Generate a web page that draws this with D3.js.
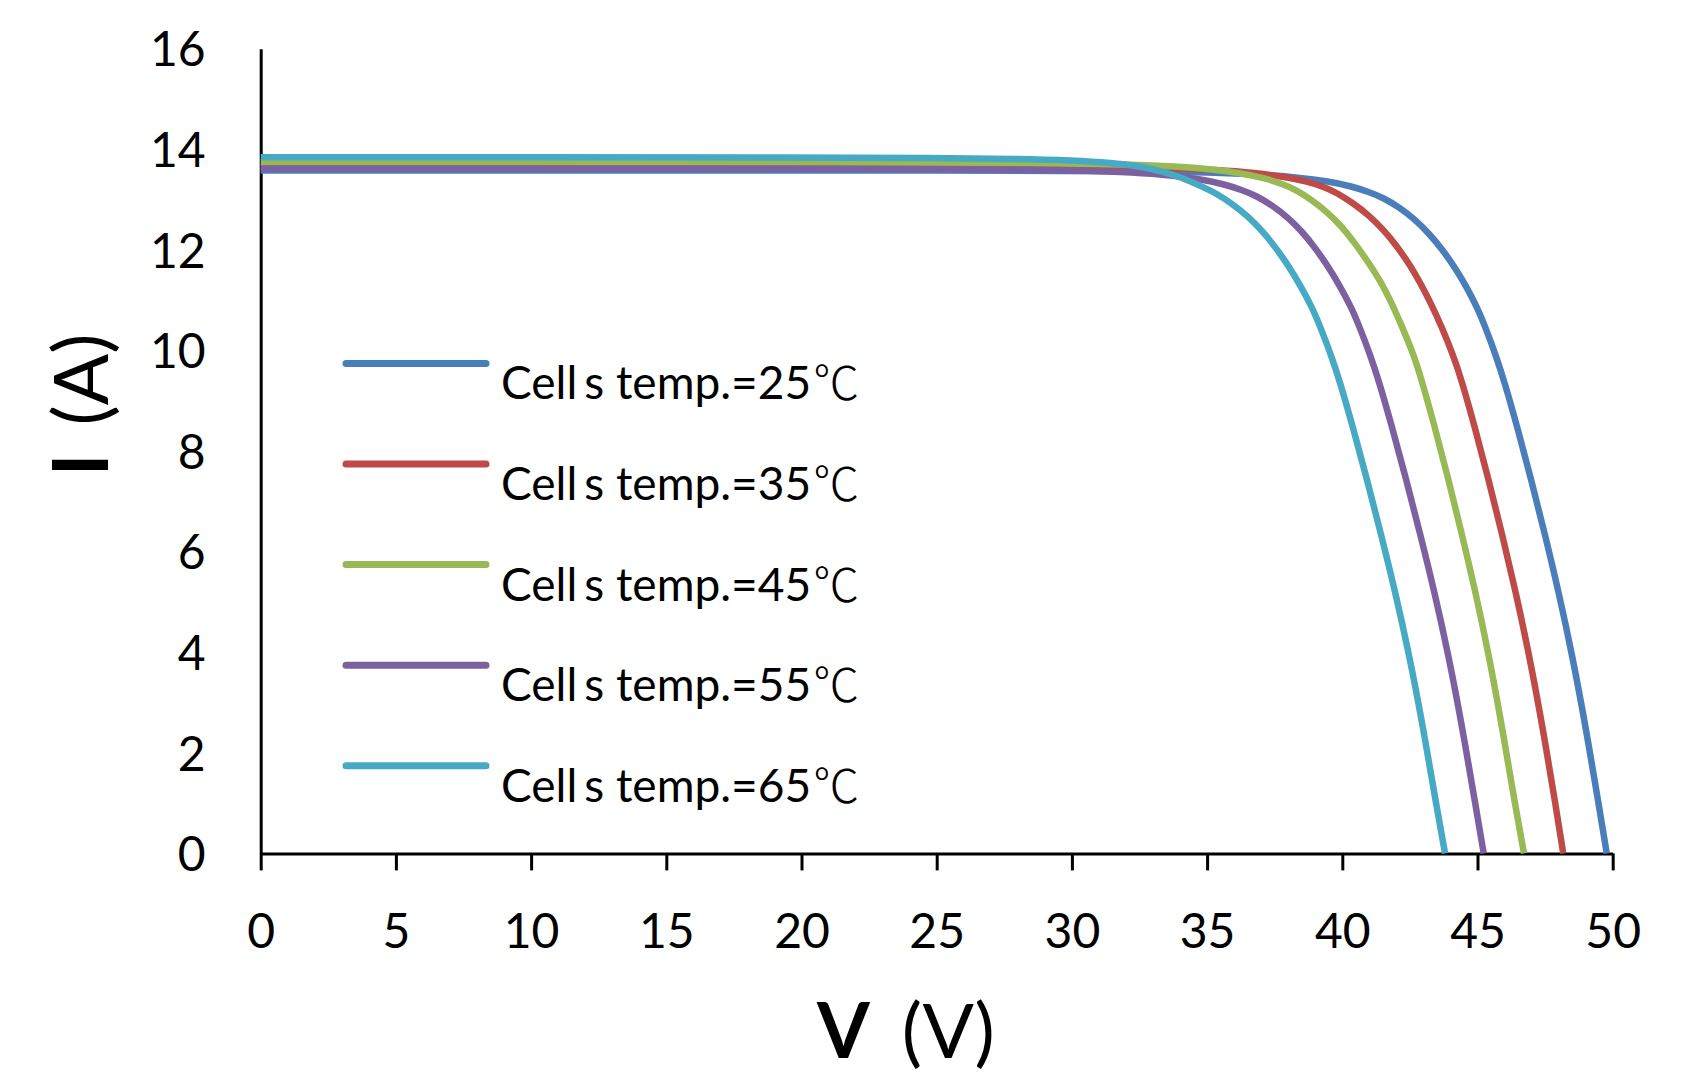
<!DOCTYPE html>
<html>
<head>
<meta charset="utf-8">
<script src="https://cdn.jsdelivr.net/npm/d3@7"></script>
<style>
  html, body { margin: 0; padding: 0; background: #fff; }
  svg { display: block; }
</style>
</head>
<body>
<div id="chart"></div>
<script>
// ---------- data ----------
const seriesNames = ["Cells temp.=25", "Cells temp.=35", "Cells temp.=45", "Cells temp.=55", "Cells temp.=65"];
const seriesColors = ["#4A7EBB", "#BE4B48", "#98B954", "#7D60A0", "#46AAC5"];
const xTicks = [0, 5, 10, 15, 20, 25, 30, 35, 40, 45, 50];
const yTicks = [0, 2, 4, 6, 8, 10, 12, 14, 16];

const curve25 = [[0,13.58],[5,13.58],[10,13.58],[15,13.58],[20,13.58],[25,13.58],[30,13.57],[33,13.56],[35,13.54],[37,13.50],[38.4,13.44],[39.5,13.36],[40.3,13.27],[41.0,13.15],[41.5,13.04],[42.1,12.85],[42.7,12.60],[43.2,12.33],[43.7,12.01],[44.2,11.62],[44.6,11.26],[45.0,10.84],[45.3,10.45],[45.7,9.87],[46.0,9.37],[46.5,8.42],[47.0,7.40],[47.5,6.33],[48.0,5.20],[48.5,3.95],[49.0,2.52],[49.5,0.92],[49.78,0]];
const curve35 = [[0,13.67],[10,13.67],[20,13.67],[28.4,13.66],[31.4,13.65],[33.4,13.63],[35.4,13.59],[36.8,13.53],[37.9,13.45],[38.7,13.36],[39.4,13.24],[39.8,13.13],[40.4,12.93],[41.0,12.68],[41.5,12.41],[42.0,12.09],[42.5,11.70],[42.9,11.33],[43.3,10.91],[43.65,10.50],[44.1,9.91],[44.4,9.43],[44.9,8.48],[45.4,7.45],[45.9,6.37],[46.4,5.23],[46.9,3.98],[47.4,2.54],[47.9,0.93],[48.17,0]];
const curve45 = [[0,13.74],[10,13.74],[20,13.74],[26.9,13.73],[29.9,13.72],[31.9,13.70],[33.9,13.66],[35.2,13.60],[36.3,13.52],[37.1,13.43],[37.8,13.31],[38.3,13.19],[38.85,13.00],[39.45,12.75],[39.95,12.48],[40.45,12.15],[40.95,11.76],[41.4,11.39],[41.8,10.97],[42.15,10.55],[42.6,9.97],[42.9,9.48],[43.4,8.52],[43.9,7.49],[44.4,6.40],[44.9,5.26],[45.4,4.00],[45.9,2.55],[46.4,0.93],[46.72,0]];
const curve55 = [[0,13.62],[10,13.62],[20,13.62],[25.3,13.61],[28.3,13.60],[30.3,13.58],[32.3,13.54],[33.7,13.48],[34.8,13.40],[35.6,13.31],[36.3,13.19],[36.8,13.08],[37.4,12.89],[38.0,12.64],[38.5,12.37],[39.0,12.04],[39.5,11.65],[39.9,11.29],[40.32,10.87],[40.63,10.48],[41.04,9.90],[41.35,9.40],[41.86,8.44],[42.37,7.42],[42.88,6.35],[43.40,5.22],[43.92,3.96],[44.43,2.53],[44.94,0.92],[45.23,0]];
const curve65 = [[0,13.84],[10,13.84],[20,13.84],[25,13.83],[28,13.81],[30,13.78],[31.5,13.73],[32.5,13.66],[33.3,13.57],[34.1,13.43],[34.85,13.25],[35.35,13.12],[35.95,12.91],[36.55,12.65],[37.05,12.37],[37.55,12.04],[38.05,11.65],[38.45,11.29],[38.87,10.87],[39.18,10.48],[39.59,9.90],[39.90,9.40],[40.41,8.44],[40.92,7.42],[41.43,6.35],[41.95,5.22],[42.47,3.96],[42.98,2.53],[43.49,0.92],[43.80,0]];
const seriesData = [curve25, curve35, curve45, curve55, curve65];

// ---------- layout ----------
const W = 1696, H = 1073;
const FONT = "Lato, 'Open Sans', 'Noto Sans', sans-serif";

const svg = d3.select("#chart").append("svg")
  .attr("width", W).attr("height", H)
  .style("background", "#fff");

const x = d3.scaleLinear().domain([0, 50]).range([260.7, 1612.7]);
const y = d3.scaleLinear().domain([0, 16]).range([853.4, 48.7]);

// x axis
const gx = svg.append("g")
  .attr("transform", `translate(0,${y(0)})`)
  .call(d3.axisBottom(x).tickValues(xTicks).tickSize(17).tickSizeOuter(0).tickFormat(d3.format("d")));
gx.select(".domain").attr("stroke", "#000").attr("stroke-width", 3);
gx.selectAll(".tick line").attr("stroke", "#000").attr("stroke-width", 3);
gx.selectAll(".tick text")
  .attr("y", 95).attr("dy", null)
  .style("font-family", FONT).style("font-size", "48px").attr("fill", "#000");

// y axis
const gy = svg.append("g")
  .attr("transform", `translate(${x(0)},0)`)
  .call(d3.axisLeft(y).tickValues(yTicks).tickSize(0).tickSizeOuter(0).tickPadding(55).tickFormat(d3.format("d")));
gy.select(".domain").attr("stroke", "#000").attr("stroke-width", 3);
gy.selectAll(".tick text")
  .attr("dy", "0.36em")
  .style("font-family", FONT).style("font-size", "48px").attr("fill", "#000");

// curves
const line = d3.line()
  .x(d => x(d[0])).y(d => y(d[1]))
  .curve(d3.curveBasis);

svg.append("g").selectAll("path")
  .data(seriesData)
  .join("path")
  .attr("d", d => line(d))
  .attr("fill", "none")
  .attr("stroke", (d, i) => seriesColors[i])
  .attr("stroke-width", 6.5)
  .attr("stroke-linejoin", "round")
  .attr("stroke-linecap", "butt");

// legend
const legend = svg.append("g");
seriesNames.forEach((name, i) => {
  const ly = 363.4 + i * 100.6;
  legend.append("line")
    .attr("x1", 346).attr("x2", 486)
    .attr("y1", ly).attr("y2", ly)
    .attr("stroke", seriesColors[i]).attr("stroke-width", 7)
    .attr("stroke-linecap", "round");
  const t = legend.append("text")
    .attr("x", 501).attr("y", ly + 36)
    .style("font-family", FONT).style("font-size", "46px").attr("fill", "#000");
  t.append("tspan").text(name.slice(0, 4));
  t.append("tspan").attr("dx", 7).text(name.slice(4));
  t.append("tspan").attr("dx", 2)
    .style("font-family", "'Noto Sans CJK SC', 'Noto Sans CJK JP', sans-serif")
    .style("font-weight", 300)
    .text("℃");
});

// axis titles
const yTitle = svg.append("text")
  .attr("transform", "translate(108,476) rotate(-90)")
  .attr("x", 0).attr("y", 0)
  .style("font-family", FONT).style("font-size", "76px").attr("fill", "#000");
yTitle.append("tspan").style("font-weight", 700).text("I");
yTitle.append("tspan").attr("dx", 28).text("(A)");

const xTitle = svg.append("text")
  .attr("x", 817).attr("y", 1058)
  .style("font-family", FONT).style("font-size", "76px").attr("fill", "#000");
xTitle.append("tspan").style("font-weight", 700).text("V");
xTitle.append("tspan").attr("dx", 32).text("(V)");
</script>
</body>
</html>
